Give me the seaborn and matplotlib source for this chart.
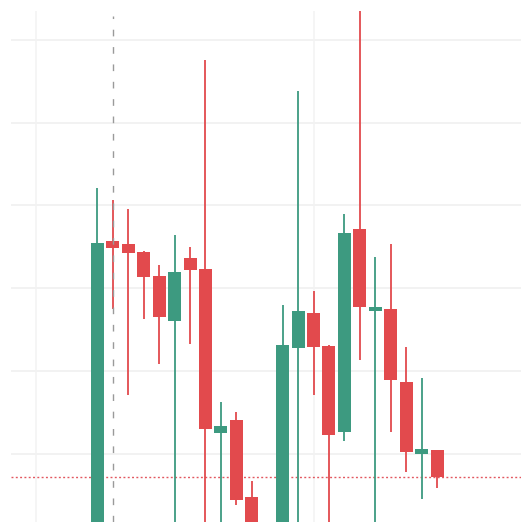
import matplotlib
matplotlib.use("Agg")
import matplotlib.pyplot as plt
import seaborn as sns
import numpy as np
import pandas as pd

# OHLC values (arbitrary price units; chart shows no labels)
opens  = [88.0, 125.73, 125.33, 124.33, 121.43, 115.99, 123.60, 122.31, 102.44, 104.01, 94.78, 90.5,
          89.0, 112.76, 116.99, 112.96, 102.64, 127.15, 117.23, 117.51, 108.61, 99.98, 100.46]
highs  = [132.10, 130.65, 129.60, 124.52, 122.79, 126.42, 125.01, 147.58, 106.26, 105.05, 96.64, 91.2,
          117.92, 143.87, 119.65, 113.08, 128.92, 156.0, 123.80, 125.33, 112.88, 109.13, 100.46]
lows   = [86.5, 117.5, 107.04, 116.30, 110.79, 89.0, 113.28, 90.0, 89.5, 93.74, 89.0, 88.0,
          88.2, 89.5, 107.04, 88.5, 101.51, 111.31, 90.0, 102.64, 97.80, 94.46, 95.86]
closes = [125.49, 124.85, 124.28, 121.31, 116.47, 121.98, 122.19, 102.93, 103.29, 94.41, 90.5, 89.0,
          113.08, 117.19, 112.91, 102.24, 126.63, 117.75, 117.68, 108.85, 100.15, 100.58, 97.12]
grid_prices = [100, 110, 120, 130, 140, 150]
grid_times = [-4, 14]
marker_index = 1

df = pd.DataFrame({"open": opens, "high": highs, "low": lows, "close": closes})
df["t"] = np.arange(len(df))
df["up"] = df["close"] >= df["open"]

GREEN = "#3d9a80"
RED = "#e24a4d"

sns.set_theme(style="white")
fig = plt.figure(figsize=(5.32, 5.32), dpi=100)
ax = fig.add_axes([11 / 532, 1 - 522 / 532, 510 / 532, 511 / 532])

for gp in grid_prices:
    ax.axhline(gp, color="#efefef", lw=1.1, zorder=0)
for gt in grid_times:
    ax.axvline(gt, color="#f2f2f2", lw=1.1, zorder=0)

colors = [GREEN if u else RED for u in df["up"]]
ax.vlines(df["t"], df["low"], df["high"], colors=colors, lw=1.3, zorder=2)
bottoms = np.minimum(df["open"], df["close"])
heights = np.abs(df["close"] - df["open"])
ax.bar(df["t"], heights, bottom=bottoms, width=0.84, color=colors, linewidth=0, zorder=3)

ax.axvline(marker_index, ymax=0.99, color="#9a9a9a", lw=1.0, linestyle=(0, (4.8, 7.7)), zorder=4)
ax.axhline(closes[-1], color="#e2575f", lw=1.0, linestyle=(0, (1.4, 1.7)), zorder=1)

ax.set_xlim(-5.6, 27.44)
ax.set_ylim(91.72, 153.5)
ax.set_xticks([])
ax.set_yticks([])
for s in ax.spines.values():
    s.set_visible(False)

fig.savefig("out.png", dpi=100, facecolor="white")
